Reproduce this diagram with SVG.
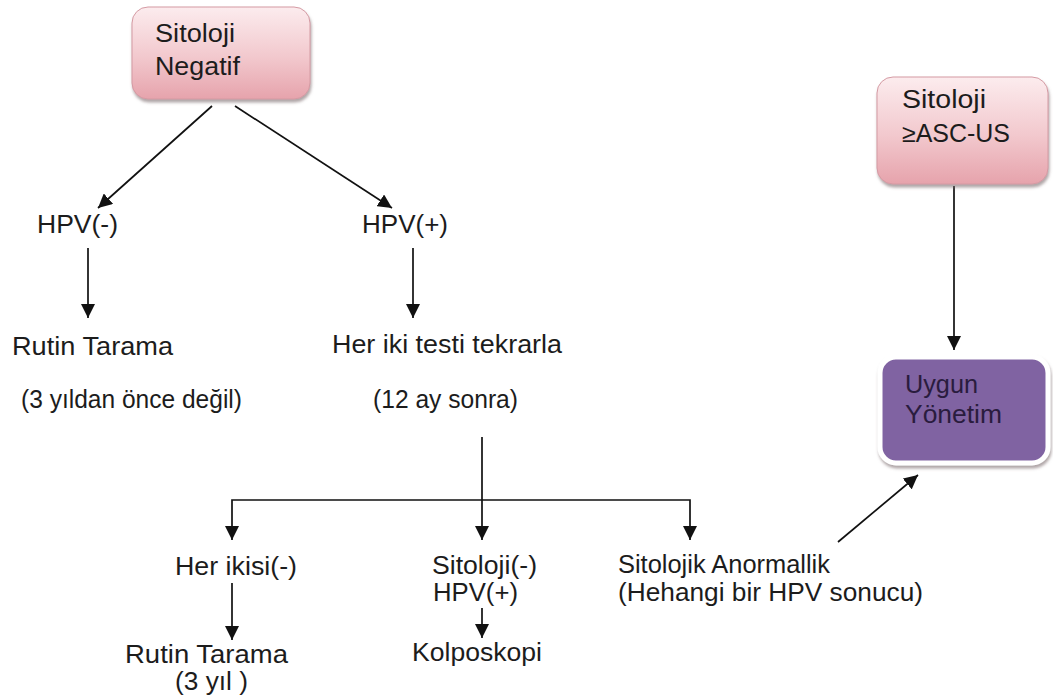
<svg xmlns="http://www.w3.org/2000/svg" width="1053" height="700" viewBox="0 0 1053 700">
<defs>
<linearGradient id="pink" x1="0" y1="0" x2="0" y2="1">
<stop offset="0" stop-color="#fcecee"/>
<stop offset="0.55" stop-color="#f2c8cd"/>
<stop offset="1" stop-color="#e6a3ac"/>
</linearGradient>
<filter id="sh" x="-10%" y="-10%" width="125%" height="130%">
<feDropShadow dx="1" dy="3" stdDeviation="1.5" flood-color="#7a6a6c" flood-opacity="0.6"/>
</filter>
<marker id="ah" viewBox="0 0 12 12" refX="12" refY="6" markerWidth="14" markerHeight="14" markerUnits="userSpaceOnUse" orient="auto">
<path d="M0,0 L12,6 L0,12 z" fill="#111"/>
</marker>
<style>
text{font-family:"Liberation Sans",Arial,sans-serif;font-size:25px;fill:#1c1c1c}
.pbox{fill:url(#pink);stroke:#d49aa3;stroke-width:1}
.vbox{fill:#8064a2;stroke:#ffffff;stroke-width:5}
.vt{fill:#2a1c3e}
.c{fill:none;stroke:#111;stroke-width:1.7;marker-end:url(#ah)}
</style>
</defs>
<rect width="1053" height="700" fill="#ffffff"/>

<g id="connectors">
<path class="c" d="M212,106 L98,208"/>
<path class="c" d="M235,106 L392,208"/>
<path class="c" d="M88,248 L88,318"/>
<path class="c" d="M413,248 L413,318"/>
<path class="c" d="M482,437 L482,540"/>
<path class="c" d="M482,500 H232 V540"/>
<path class="c" d="M482,500 H690 V540"/>
<path class="c" d="M232,583 L232,640"/>
<path class="c" d="M482,608 L482,638"/>
<path class="c" d="M954,186 L954,350"/>
<path class="c" d="M838,542 L918,475"/>
</g>

<g id="node-sitoloji-negatif">
<rect class="pbox" x="132" y="7" width="178" height="92" rx="16" filter="url(#sh)"/>
<text x="155" y="42" textLength="80" lengthAdjust="spacingAndGlyphs">Sitoloji</text>
<text x="155" y="75" textLength="85" lengthAdjust="spacingAndGlyphs">Negatif</text>
</g>

<g id="node-sitoloji-ascus">
<rect class="pbox" x="877" y="77" width="171" height="107" rx="16" filter="url(#sh)"/>
<text x="902" y="108" textLength="84" lengthAdjust="spacingAndGlyphs">Sitoloji</text>
<text x="902" y="142" textLength="108" lengthAdjust="spacingAndGlyphs">≥ASC-US</text>
</g>

<g id="node-uygun-yonetim">
<rect class="vbox" x="880" y="357" width="168" height="106" rx="16" filter="url(#sh)"/>
<text class="vt" x="905" y="393" textLength="73" lengthAdjust="spacingAndGlyphs">Uygun</text>
<text class="vt" x="905" y="423" textLength="97" lengthAdjust="spacingAndGlyphs">Yönetim</text>
</g>

<g id="node-hpv-neg">
<text x="37" y="233" textLength="81" lengthAdjust="spacingAndGlyphs">HPV(-)</text>
</g>
<g id="node-hpv-pos">
<text x="362" y="233" textLength="86" lengthAdjust="spacingAndGlyphs">HPV(+)</text>
</g>

<g id="node-rutin-tarama-1">
<text x="12" y="355" textLength="161" lengthAdjust="spacingAndGlyphs">Rutin Tarama</text>
<text x="21" y="408" textLength="221" lengthAdjust="spacingAndGlyphs">(3 yıldan önce değil)</text>
</g>

<g id="node-her-iki-testi">
<text x="332" y="353" textLength="230" lengthAdjust="spacingAndGlyphs">Her iki testi tekrarla</text>
<text x="373" y="408" textLength="145" lengthAdjust="spacingAndGlyphs">(12 ay sonra)</text>
</g>

<g id="node-her-ikisi">
<text x="175" y="575" textLength="122" lengthAdjust="spacingAndGlyphs">Her ikisi(-)</text>
</g>

<g id="node-rutin-tarama-2">
<text x="125" y="663" textLength="163" lengthAdjust="spacingAndGlyphs">Rutin Tarama</text>
<text x="175" y="690" textLength="73" lengthAdjust="spacingAndGlyphs">(3 yıl )</text>
</g>

<g id="node-sitoloji-neg-hpv-pos">
<text x="432" y="574" textLength="105" lengthAdjust="spacingAndGlyphs">Sitoloji(-)</text>
<text x="433" y="601" textLength="85" lengthAdjust="spacingAndGlyphs">HPV(+)</text>
</g>

<g id="node-kolposkopi">
<text x="412" y="661" textLength="130" lengthAdjust="spacingAndGlyphs">Kolposkopi</text>
</g>

<g id="node-sitolojik-anormallik">
<text x="618" y="573" textLength="212" lengthAdjust="spacingAndGlyphs">Sitolojik Anormallik</text>
<text x="618" y="601" textLength="305" lengthAdjust="spacingAndGlyphs">(Hehangi bir HPV sonucu)</text>
</g>
</svg>
